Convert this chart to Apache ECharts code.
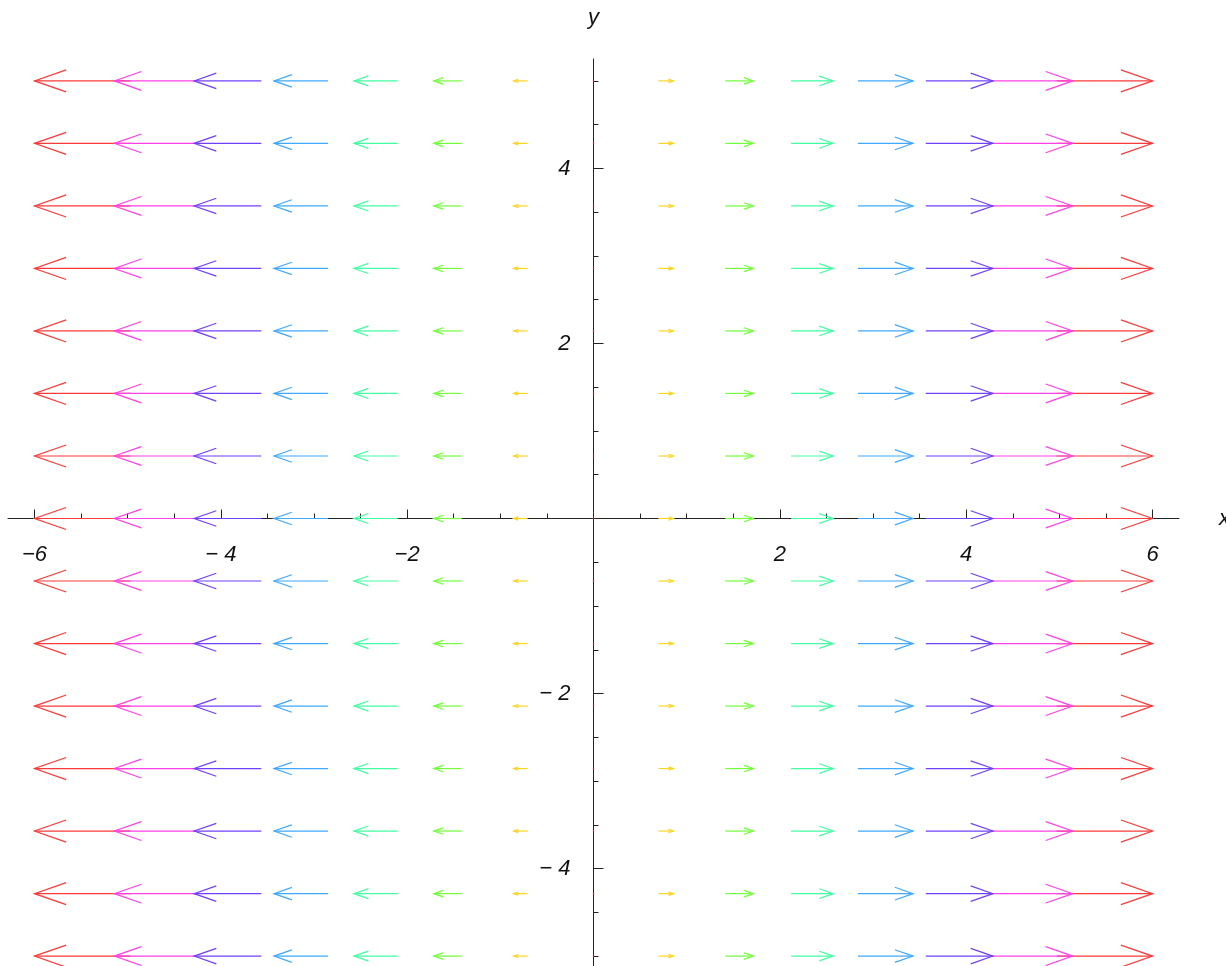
<!DOCTYPE html>
<html>
<head>
<meta charset="utf-8">
<script src="https://cdn.jsdelivr.net/npm/echarts@6/dist/echarts.min.js"></script>
<style>
  html, body { margin: 0; padding: 0; background: #ffffff; }
  #chart { width: 1226px; height: 966px; }
</style>
</head>
<body>
<div id="chart"></div>
<script>
// Sample points of the field: arrow heads sit on this grid
const gridX = [-6, -5.143, -4.286, -3.429, -2.571, -1.714, -0.857, 0, 0.857, 1.714, 2.571, 3.429, 4.286, 5.143, 6];
const gridY = [-5, -4.286, -3.571, -2.857, -2.143, -1.429, -0.714, 0, 0.714, 1.429, 2.143, 2.857, 3.571, 4.286, 5];

// Horizontal component of each column's arrow, in x-axis units (the field has no vertical part)
const arrowDx = [-1.03, -0.88, -0.72, -0.58, -0.47, -0.30, -0.15, 0, 0.16, 0.30, 0.45, 0.59, 0.72, 0.88, 1.03];

// Arrow colour per column, by magnitude
const columnColors = ['#ff3838', '#ff40e8', '#7040ff', '#40a8ff', '#40ffa0', '#70ff38', '#ffd420',
                      '#ff2020',
                      '#ffd420', '#70ff38', '#40ffa0', '#40a8ff', '#7040ff', '#ff40e8', '#ff3838'];

// Axis ticks and labels
const xTickValues = [-6, -4, -2, 2, 4, 6];
const xTickLabels = ['\u22126', '\u2212 4', '\u22122', '2', '4', '6'];
const xMinorTicks = [-5.5, -5, -4.5, -3.5, -3, -2.5, -1.5, -1, -0.5, 0.5, 1, 1.5, 2.5, 3, 3.5, 4.5, 5, 5.5];
const yTickValues = [-4, -2, 2, 4];
const yTickLabels = ['\u2212 4', '\u2212 2', '2', '4'];
const yMinorTicks = [-5, -4.5, -3.5, -3, -2.5, -1.5, -1, -0.5, 0.5, 1, 1.5, 2.5, 3, 3.5, 4.5, 5];

// Symmetric axis ranges, so the origin lies at the centre of the plot rectangle
const X_RANGE = 6.284;
const Y_RANGE = 5.25;

// Plot rectangle
const GRID_LEFT = 8, GRID_TOP = 59, GRID_W = 1171, GRID_H = 919;
// Axes cross at the origin: shift them from the rectangle edges to its centre lines
const X_AXIS_SHIFT = -GRID_H / 2;
const Y_AXIS_SHIFT = -GRID_W / 2;

const axisColor = '#222222';
const labelFont = {
  fontFamily: '"Liberation Sans", Arial, sans-serif',
  fontStyle: 'italic',
  fontSize: 22,
  color: '#111111'
};

// one data item per arrow: [headX, headY, dx, columnIndex]
const arrows = [];
gridY.forEach(function (y) {
  gridX.forEach(function (x, i) {
    arrows.push([x, y, arrowDx[i], i]);
  });
});

function labelFor(values, labels) {
  return function (v) {
    const n = Number(v);
    for (let k = 0; k < values.length; k++) {
      if (Math.abs(values[k] - n) < 1e-6) return labels[k];
    }
    return '';
  };
}

function renderArrow(params, api) {
  const hx = api.value(0), hy = api.value(1), dx = api.value(2), col = api.value(3);
  const color = columnColors[col];
  const z2 = 20 - Math.abs(col - 7);
  const tip = api.coord([hx, hy]);
  if (dx === 0) {
    return {
      type: 'circle',
      z2: z2,
      shape: { cx: tip[0], cy: tip[1], r: 0.8 },
      style: { fill: color, stroke: null }
    };
  }
  const tail = api.coord([hx - dx, hy]);
  const vx = tip[0] - tail[0], vy = tip[1] - tail[1];
  const len = Math.sqrt(vx * vx + vy * vy);
  const ux = vx / len, uy = vy / len;
  const nx = -uy, ny = ux;
  const headLen = 0.33 * len, halfW = 0.115 * len;
  const bx = tip[0] - ux * headLen, by = tip[1] - uy * headLen;
  const style = { stroke: color, lineWidth: 1.2, fill: null };
  return {
    type: 'group',
    children: [
      { type: 'polyline', z2: z2, shape: { points: [tail, tip] }, style: style },
      { type: 'polyline', z2: z2, shape: { points: [
          [bx + nx * halfW, by + ny * halfW], tip, [bx - nx * halfW, by - ny * halfW]
        ] }, style: style }
    ]
  };
}

const chart = echarts.init(document.getElementById('chart'), null, { renderer: 'canvas' });

chart.setOption({
  animation: false,
  backgroundColor: '#ffffff',
  grid: {
    left: GRID_LEFT,
    top: GRID_TOP,
    width: GRID_W,
    height: GRID_H,
    outerBoundsMode: 'none',
    containLabel: false
  },
  xAxis: [
    {
      type: 'value',
      min: -X_RANGE,
      max: X_RANGE,
      position: 'bottom',
      offset: X_AXIS_SHIFT,
      name: 'x',
      nameLocation: 'end',
      nameGap: 40,
      nameTextStyle: Object.assign({ padding: [6, 0, 0, 0] }, labelFont),
      axisLine: { show: true, onZero: false, lineStyle: { color: axisColor, width: 1 } },
      axisTick: { show: true, inside: true, length: 9, customValues: xTickValues, lineStyle: { color: axisColor } },
      axisLabel: {
        show: true,
        margin: 25,
        customValues: xTickValues,
        formatter: labelFor(xTickValues, xTickLabels),
        fontFamily: labelFont.fontFamily,
        fontStyle: labelFont.fontStyle,
        fontSize: labelFont.fontSize,
        color: labelFont.color
      },
      splitLine: { show: false }
    },
    {
      type: 'value',
      min: -X_RANGE,
      max: X_RANGE,
      position: 'bottom',
      offset: X_AXIS_SHIFT,
      axisLine: { show: false, onZero: false },
      axisTick: { show: true, inside: true, length: 5, customValues: xMinorTicks, lineStyle: { color: axisColor } },
      axisLabel: { show: false },
      splitLine: { show: false }
    }
  ],
  yAxis: [
    {
      type: 'value',
      min: -Y_RANGE,
      max: Y_RANGE,
      position: 'left',
      offset: Y_AXIS_SHIFT,
      name: 'y',
      nameLocation: 'end',
      nameGap: 30,
      nameTextStyle: labelFont,
      axisLine: { show: true, onZero: false, lineStyle: { color: axisColor, width: 1 } },
      axisTick: { show: true, inside: true, length: 10, customValues: yTickValues, lineStyle: { color: axisColor } },
      axisLabel: {
        show: true,
        margin: 23,
        customValues: yTickValues,
        formatter: labelFor(yTickValues, yTickLabels),
        fontFamily: labelFont.fontFamily,
        fontStyle: labelFont.fontStyle,
        fontSize: labelFont.fontSize,
        color: labelFont.color
      },
      splitLine: { show: false }
    },
    {
      type: 'value',
      min: -Y_RANGE,
      max: Y_RANGE,
      position: 'left',
      offset: Y_AXIS_SHIFT,
      axisLine: { show: false, onZero: false },
      axisTick: { show: true, inside: true, length: 5, customValues: yMinorTicks, lineStyle: { color: axisColor } },
      axisLabel: { show: false },
      splitLine: { show: false }
    }
  ],
  series: [
    {
      type: 'custom',
      coordinateSystem: 'cartesian2d',
      xAxisIndex: 0,
      yAxisIndex: 0,
      data: arrows,
      encode: { x: 0, y: 1 },
      renderItem: renderArrow,
      silent: true
    }
  ]
});
</script>
</body>
</html>
